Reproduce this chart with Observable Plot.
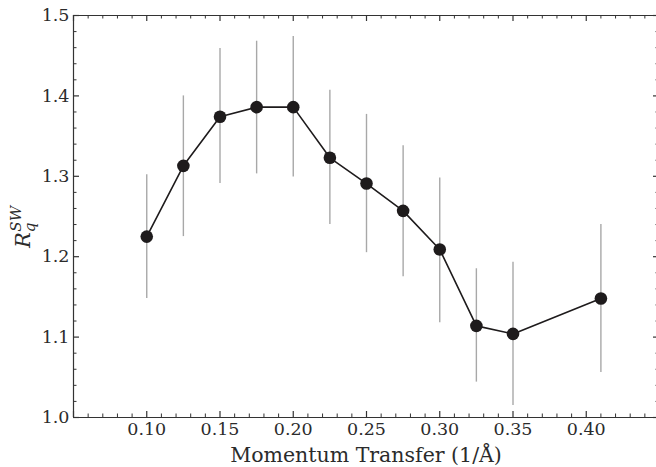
<!DOCTYPE html>
<html><head><meta charset="utf-8">
<script src="https://cdn.jsdelivr.net/npm/d3@7"></script>
<script src="https://cdn.jsdelivr.net/npm/@observablehq/plot@0.6"></script>
<style>body{margin:0;background:#fff}</style>
</head><body><div id="chart"></div>
<script>
const q      = [0.10, 0.125, 0.15, 0.175, 0.20, 0.225, 0.25, 0.275, 0.30, 0.325, 0.35, 0.41];
const ratio  = [1.225, 1.313, 1.374, 1.386, 1.386, 1.323, 1.291, 1.257, 1.209, 1.114, 1.104, 1.148];
const errLo  = [1.148, 1.225, 1.291, 1.303, 1.299, 1.240, 1.205, 1.175, 1.118, 1.044, 1.015, 1.056];
const errHi  = [1.302, 1.400, 1.459, 1.468, 1.474, 1.407, 1.377, 1.338, 1.298, 1.185, 1.193, 1.240];
const xTickLabels = [0.10, 0.15, 0.20, 0.25, 0.30, 0.35, 0.40];
const yTickLabels = [1.0, 1.1, 1.2, 1.3, 1.4, 1.5];

const data = q.map((x, i) => ({x, y: ratio[i], lo: errLo[i], hi: errHi[i]}));
const xMajor = d3.range(0.05, 0.4501, 0.05).map(v => +v.toFixed(2));
const xMinor = d3.range(0.05, 0.4501, 0.01).map(v => +v.toFixed(2)).filter(v => !xMajor.some(m => Math.abs(m - v) < 1e-6));
const yMajor = yTickLabels;
const yMinor = d3.range(1.0, 1.5001, 0.02).map(v => +v.toFixed(2)).filter(v => !yMajor.some(m => Math.abs(m - v) < 1e-6));

const X0 = 0.05, X1 = 0.45, Y0 = 1.0, Y1 = 1.5;
const pxX = (X1 - X0) / (659 - 73), pxY = (Y1 - Y0) / (417 - 15);
const axisColor = "#333";
const textColor = "#2b2b2b";

const plot = Plot.plot({
  width: 656, height: 467,
  marginLeft: 73, marginTop: 15, marginBottom: 50, marginRight: 0,
  x: {domain: [X0, X1], range: [73, 659]},
  y: {domain: [Y0, Y1], range: [417, 15]},
  style: {fontFamily: "DejaVu Serif", background: "#fff"},
  marks: [
    Plot.ruleY([Y0, Y1], {x1: X0, x2: X1, stroke: axisColor, strokeWidth: 1.2}),
    Plot.ruleX([X0, X1], {y1: Y0, y2: Y1, stroke: axisColor, strokeWidth: 1.2}),
    Plot.ruleX(xMajor, {x: d => d, y1: Y0, y2: Y0 + 6 * pxY, stroke: axisColor, strokeWidth: 1.2}),
    Plot.ruleX(xMinor, {x: d => d, y1: Y0, y2: Y0 + 3.5 * pxY, stroke: axisColor, strokeWidth: 1}),
    Plot.ruleX(xMajor, {x: d => d, y1: Y1, y2: Y1 - 6 * pxY, stroke: axisColor, strokeWidth: 1.2}),
    Plot.ruleX(xMinor, {x: d => d, y1: Y1, y2: Y1 - 3.5 * pxY, stroke: axisColor, strokeWidth: 1}),
    Plot.ruleY(yMajor, {y: d => d, x1: X0, x2: X0 + 6 * pxX, stroke: axisColor, strokeWidth: 1.2}),
    Plot.ruleY(yMinor, {y: d => d, x1: X0, x2: X0 + 3.5 * pxX, stroke: axisColor, strokeWidth: 1}),
    Plot.ruleY(yMajor, {y: d => d, x1: X1, x2: X1 - 6 * pxX, stroke: axisColor, strokeWidth: 1.2}),
    Plot.ruleY(yMinor, {y: d => d, x1: X1, x2: X1 - 3.5 * pxX, stroke: axisColor, strokeWidth: 1}),
    Plot.axisX(xTickLabels, {anchor: "bottom", tickSize: 0, tickPadding: 5, tickFormat: d3.format(".2f"),
      fontSize: 17.5, fill: textColor, label: null}),
    Plot.axisY(yTickLabels, {anchor: "left", tickSize: 0, tickPadding: 4, tickFormat: d3.format(".1f"),
      fontSize: 17.5, fill: textColor, label: null}),
    Plot.ruleX(data, {x: "x", y1: "lo", y2: "hi", stroke: "#a8a8a8", strokeWidth: 1.4}),
    Plot.line(data, {x: "x", y: "y", stroke: "#1e1b1c", strokeWidth: 1.6}),
    Plot.dot(data, {x: "x", y: "y", r: 6.3, fill: "#1e1b1c", stroke: "none"})
  ]
});

const svg = d3.select(plot);
svg.append("text")
  .attr("x", 366).attr("y", 462)
  .attr("text-anchor", "middle")
  .attr("font-family", "DejaVu Serif").attr("font-size", 20.5).attr("fill", textColor)
  .text("Momentum Transfer (1/Å)");

const yl = svg.append("text")
  .attr("transform", "translate(30,227) rotate(-90)")
  .attr("text-anchor", "middle")
  .attr("font-family", "DejaVu Serif").attr("font-style", "italic").attr("fill", textColor)
  .attr("font-size", 21);
yl.append("tspan").text("R");
yl.append("tspan").attr("font-size", 15).attr("dy", 5).text("q");
yl.append("tspan").attr("font-size", 15).attr("dy", -14).attr("dx", -9).text("SW");

document.getElementById("chart").appendChild(plot);
</script>
</body></html>
